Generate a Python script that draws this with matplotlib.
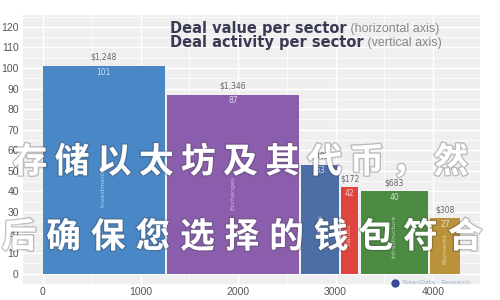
import matplotlib
matplotlib.use('Agg')

import matplotlib.pyplot as plt
import matplotlib.patheffects as pe
from matplotlib.ticker import MultipleLocator
import numpy as np

# data (deal value = bar width, deal count = bar height)
sectors = ['Investment Firms', 'Exchanges', 'Mining', 'Wallets', 'Infrastructure', 'Payments']
deal_value = np.array([1248, 1346, 381, 172, 683, 308])
deal_count = np.array([101, 87, 53, 42, 40, 27])
colors = ['#4a87c6', '#8b5ead', '#4c6ea6', '#e0443f', '#4b8b42', '#b9923a']
x_ticks = [0, 1000, 2000, 3000, 4000]
y_ticks = np.arange(0, 121, 10)

fig = plt.figure(figsize=(5, 3), dpi=100)
ax = fig.add_axes([0.046, 0.05, 0.914, 0.90])
ax.set_facecolor('#efefef')

gap = 28
lefts = np.concatenate([[0], np.cumsum(deal_value)[:-1]]) + np.arange(len(deal_value)) * gap
ax.bar(lefts, deal_count, width=deal_value, align='edge', color=colors,
       edgecolor='none', zorder=2)

for left, w, h, name in zip(lefts, deal_value, deal_count, sectors):
    cx = left + w / 2
    ax.text(cx, h + 4.2, f'${w:,}', ha='center', va='center', fontsize=5.5,
            color='#666666', zorder=3)
    ax.text(cx, h - 3, str(h), ha='center', va='center', fontsize=5.5,
            color='white', alpha=0.75, zorder=3)
    ax.text(cx, h * 0.45, name, rotation=90, ha='center', va='center',
            fontsize=4.5, color='white', alpha=0.6, zorder=3)

ax.set_xlim(-205, 4480)
ax.set_ylim(-5.5, 125.8)
ax.set_xticks(x_ticks)
ax.set_yticks(y_ticks)
ax.xaxis.set_minor_locator(MultipleLocator(500))
ax.yaxis.set_minor_locator(MultipleLocator(5))
ax.grid(which='major', color='white', linewidth=1.0)
ax.grid(which='minor', color='white', linewidth=0.5)
ax.set_axisbelow(True)
for s in ax.spines.values():
    s.set_visible(False)
ax.tick_params(which='both', length=0, labelsize=7.5, labelcolor='#555555')
ax.tick_params(axis='x', pad=1.5)
ax.tick_params(axis='y', pad=3)
for lab in ax.get_xticklabels() + ax.get_yticklabels():
    lab.set_fontfamily('Liberation Sans')

# title block
fig.canvas.draw()
r = fig.canvas.get_renderer()
for y, bold, rest in [(29, 'Deal value per sector', ' (horizontal axis)'),
                      (43, 'Deal activity per sector', ' (vertical axis)')]:
    t = fig.text(0.34, 1 - y / 300, bold, fontsize=10.5, fontweight='bold',
                 color='#3a3a55', va='center', family='DejaVu Sans')
    bb = t.get_window_extent(r)
    fig.text(bb.x1 / 500, 1 - y / 300, rest, fontsize=9, color='#888888',
             va='center', family='Liberation Sans')

# source logo
fig.add_artist(plt.Line2D([395 / 500], [1 - 283 / 300], transform=fig.transFigure,
                          marker='o', markersize=5, color='#3a4a9a'))
fig.text(402 / 500, 1 - 283 / 300, 'TokenData · Research', fontsize=4.5,
         color='#9bb0d8', va='center')

# overlay text, spaced out character by character
fx = [pe.withStroke(linewidth=2, foreground='#444444', alpha=0.3)]
overlay = [('存储以太坊及其代币，然', 30, 42.1, 162),
           ('后确保您选择的钱包符合', 19, 44.6, 237)]
for line, x0, pitch, yc in overlay:
    for i, ch in enumerate(line):
        fig.text((x0 + i * pitch) / 500, 1 - yc / 300, ch, fontsize=25,
                 fontweight='bold', color='white', va='center', ha='center',
                 family=['Noto Sans CJK SC', 'DejaVu Sans'], path_effects=fx)

plt.savefig('out.png', dpi=100)
plt.close()
